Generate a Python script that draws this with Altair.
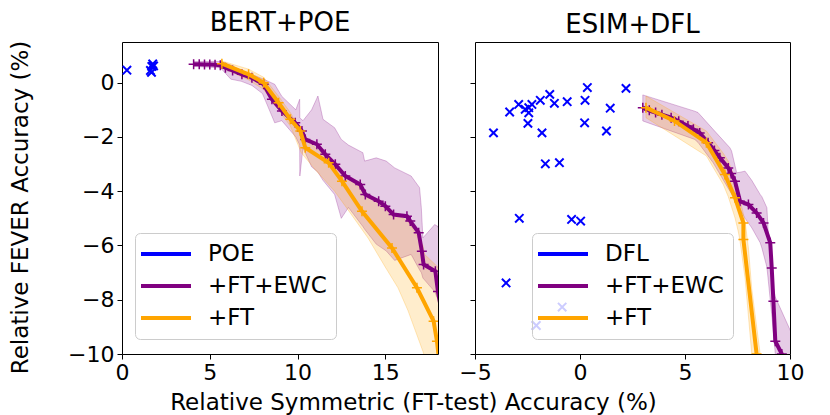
import altair as alt
import pandas as pd

FONT = "DejaVu Sans"
PURPLE = "#800080"
ORANGE = "#ffa500"
BLUE = "#0000ff"

# ---------------- BERT+POE panel ----------------
bert_poe_x = [0.28, 1.62, 1.70, 1.75, 1.80, 1.68]
bert_poe_y = [0.46, 0.45, 0.60, 0.69, 0.62, 0.38]

bert_ewc_x = [4.08, 4.4, 4.7, 5.0, 5.3, 5.6, 5.89, 6.3, 6.83, 7.4, 8.07, 8.54, 9.11, 9.87, 10.25,
              10.44, 11.1, 11.58, 12.15, 12.72, 13.57, 13.86, 14.62, 15.0, 15.47, 16.23, 16.42,
              16.9, 17.08, 17.18, 17.85, 18.0, 18.3]
bert_ewc_y = [0.68, 0.68, 0.67, 0.67, 0.66, 0.64, 0.55, 0.45, 0.31, 0.18, -0.06, -0.61, -1.04, -1.48,
              -1.78, -2.09, -2.27, -2.64, -3.01, -3.44, -3.75, -4.12, -4.37, -4.55, -4.86, -4.92,
              -5.1, -5.53, -6.21, -6.7, -6.95, -7.7, -8.8]

bert_ft_x = [5.69, 7.21, 8.07, 8.92, 9.59, 10.16, 10.44, 11.77, 12.53, 13.67, 15.38, 16.8, 17.75, 17.94, 18.2]
bert_ft_y = [0.70, 0.31, 0.0, -0.74, -1.35, -1.78, -2.4, -2.95, -3.63, -4.74, -6.09, -7.56, -8.79, -9.53, -11.0]

bert_ewc_band_x = [4.08, 5.6, 6.2, 6.8, 7.4, 8.0, 8.7, 9.1, 9.9, 10.12, 10.13, 10.31, 10.8, 11.16,
                   11.45, 12.11, 12.49, 12.9, 13.72, 13.82, 14.48, 15.05, 15.53, 16.47, 16.95, 17.05,
                   17.14, 17.81, 18.0, 18.3]
bert_ewc_band_lo = [0.60, 0.55, 0.13, 0.05, -0.1, -0.4, -1.48, -1.4, -2.0, -2.3, -3.44, -2.4, -3.1, -3.3,
                    -3.6, -4.12, -5.0, -4.6, -5.3, -5.4, -5.95, -6.2, -6.55, -6.33, -6.9, -7.0,
                    -7.2, -7.7, -8.0, -9.0]
bert_ewc_band_hi = [0.78, 0.78, 0.65, 0.45, 0.3, 0.15, -0.06, -0.5, -1.0, -0.61, -1.3, -1.4, -1.0, -0.49,
                    -1.35, -1.66, -2.09, -2.3, -2.58, -2.89, -2.77, -2.89, -3.14, -3.44, -3.87, -4.61,
                    -5.72, -5.23, -5.3, -6.0]

bert_ft_band_x = [5.69, 7.21, 8.07, 8.92, 9.59, 10.21, 11.0, 12.11, 13.0, 14.01, 15.0, 15.72, 16.29,
                  17.14, 17.24, 18.0, 18.3]
bert_ft_band_lo = [0.55, 0.1, -0.25, -1.0, -1.6, -2.58, -3.2, -4.0, -4.8, -5.72, -6.8, -7.56, -8.4,
                   -9.9, -10.1, -11.5, -12.0]
bert_ft_band_hi = [0.80, 0.5, 0.2, -0.5, -1.1, -1.78, -2.4, -3.01, -3.55, -4.12, -4.6, -4.9, -5.1,
                   -6.0, -6.33, -6.8, -7.2]

# ---------------- ESIM+DFL panel ----------------
esim_dfl_x = [-4.12, -3.35, -2.92, -2.61, -2.44, -2.44, -2.29, -2.48, -1.89, -1.81, -1.44, -1.22,
              -1.65, -0.98, -0.61, 0.24, 0.35, 0.22, 1.44, 1.26, 2.19, -2.89, -0.40, 0.03, -3.52,
              -0.85, -2.08]
esim_dfl_y = [-1.85, -1.08, -0.80, -0.98, -1.11, -0.92, -0.80, -1.50, -0.65, -1.85, -0.43, -0.76,
              -2.99, -2.95, -0.70, -0.65, -0.18, -1.48, -0.94, -1.78, -0.21, -5.00, -5.04, -5.10,
              -7.38, -8.27, -8.95]

esim_ewc_x = [2.99, 3.3, 3.6, 3.9, 4.34, 4.7, 5.14, 5.4, 5.7, 6.1, 6.4, 6.66, 7.06, 7.2, 7.38,
              7.62, 8.02, 8.41, 8.74, 9.06, 9.13, 9.21, 9.3, 9.61, 9.8]
esim_ewc_y = [-0.92, -1.02, -1.1, -1.18, -1.29, -1.42, -1.6, -1.72, -1.85, -2.21, -2.5, -2.77,
              -3.14, -3.35, -3.63, -4.37, -4.49, -4.8, -5.17, -5.9, -6.83, -8.06, -9.53, -10.0, -10.5]

esim_ft_x = [3.14, 4.5, 6.02, 6.9, 7.38, 7.78, 7.781, 8.41, 8.6]
esim_ft_y = [-0.92, -1.41, -2.21, -3.38, -4.24, -5.17, -5.78, -10.0, -11.0]

esim_ewc_band_x = [2.99, 5.46, 5.62, 6.34, 7.14, 7.22, 7.46, 7.62, 7.86, 8.18, 8.58, 8.66, 8.9,
                   8.97, 9.13, 9.21, 9.3, 10.1]
esim_ewc_band_lo = [-1.41, -2.09, -2.2, -2.95, -4.0, -4.1, -4.4, -4.67, -5.0, -5.35, -5.9, -6.09,
                    -6.8, -7.32, -8.55, -9.2, -10.0, -11.5]
esim_ewc_band_hi = [-0.45, -1.05, -1.1, -1.72, -2.4, -2.52, -3.32, -3.3, -3.26, -3.6, -4.12, -4.2,
                    -4.61, -5.6, -6.9, -7.56, -7.9, -9.28]

esim_ft_band_x = [3.14, 6.02, 6.82, 7.06, 7.38, 7.54, 7.62, 7.86, 8.02, 8.18, 8.58]
esim_ft_band_lo = [-1.29, -2.7, -3.75, -4.2, -4.98, -5.5, -5.84, -7.2, -8.6, -10.0, -12.0]
esim_ft_band_hi = [-0.49, -1.78, -2.6, -2.89, -3.5, -4.0, -4.3, -5.1, -6.09, -7.6, -10.0]

PLUS = "M-1,0L1,0M0,-1L0,1"
CROSS = "M-1,-1L1,1M-1,1L1,-1"
LEGEND_LINE = "M-2.5,0L2.5,0"


def band_df(xs, lo, hi):
    return pd.DataFrame({"x": xs, "lo": lo, "hi": hi})


def line_df(xs, ys, name):
    return pd.DataFrame({"x": xs, "y": ys, "series": name, "i": list(range(len(xs)))})


def panel(title, base_name, base_x, base_y, ewc_x, ewc_y, ft_x, ft_y,
          ewc_band, ft_band, xdom, xticks, first, legend_x):
    xscale = alt.Scale(domain=xdom, nice=False, zero=False)
    yscale = alt.Scale(domain=[-10, 1.5], nice=False, zero=False)
    if first:
        xaxis = alt.Axis(values=xticks, title="Relative Symmetric (FT-test) Accuracy (%)",
                         titleX=291, titleY=55, titleAlign="center", titleBaseline="alphabetic",
                         titleFontSize=23, titleFont=FONT, titleFontWeight="normal", titleColor="black")
        yaxis = alt.Axis(values=[-10, -8, -6, -4, -2, 0], title="Relative FEVER Accuracy (%)",
                         titleAngle=270, titleX=-95, titleY=165, titleAlign="center",
                         titleBaseline="alphabetic", titleFontSize=23, titleFont=FONT,
                         titleFontWeight="normal", titleColor="black")
    else:
        xaxis = alt.Axis(values=xticks, title=None)
        yaxis = alt.Axis(values=[-10, -8, -6, -4, -2, 0], title=None, labels=False)

    domain = [base_name, "+FT+EWC", "+FT"]
    color = alt.Color("series:N",
                      scale=alt.Scale(domain=domain, range=[BLUE, PURPLE, ORANGE]),
                      legend=alt.Legend(title=None, orient="none", legendX=legend_x, legendY=191,
                                        symbolType=LEGEND_LINE, symbolSize=400, symbolStrokeWidth=4,
                                        symbolOffset=10, labelOffset=30,
                                        labelFontSize=23, labelFont=FONT, labelColor="black",
                                        padding=9, rowPadding=8,
                                        fillColor="rgba(255,255,255,0.8)", strokeColor="#cccccc",
                                        cornerRadius=5))

    x = alt.X("x:Q", scale=xscale, axis=xaxis)
    y = alt.Y("y:Q", scale=yscale, axis=yaxis)

    def band(df, col):
        return alt.Chart(df).mark_area(clip=True, color=col, fillOpacity=0.2, stroke=col,
                                       strokeOpacity=0.25, strokeWidth=1).encode(
            x=alt.X("x:Q", scale=xscale, axis=xaxis),
            y=alt.Y("lo:Q", scale=yscale, axis=yaxis),
            y2="hi:Q")

    ewc = line_df(ewc_x, ewc_y, "+FT+EWC")
    ft = line_df(ft_x, ft_y, "+FT")
    base = line_df(base_x, base_y, base_name)

    layers = [
        band(ewc_band, PURPLE),
        band(ft_band, ORANGE),
        alt.Chart(ewc).mark_line(clip=True, strokeWidth=4).encode(x=x, y=y, color=color, order="i:Q"),
        alt.Chart(ewc).mark_point(clip=True, shape=PLUS, filled=False, size=100, strokeWidth=1.5,
                                  opacity=1, stroke=PURPLE).encode(x=x, y=y),
        alt.Chart(ft).mark_line(clip=True, strokeWidth=4).encode(x=x, y=y, color=color, order="i:Q"),
        alt.Chart(ft).mark_point(clip=True, shape=PLUS, filled=False, size=100, strokeWidth=1.5,
                                 opacity=1, stroke=ORANGE).encode(x=x, y=y),
        alt.Chart(base).mark_point(clip=True, shape=CROSS, filled=False, size=70, strokeWidth=2,
                                   opacity=1, stroke=BLUE).encode(x=x, y=y),
    ]
    w = 316 if first else 315
    return alt.layer(*layers).properties(
        width=w, height=312,
        title=alt.Title(title, fontSize=26, font=FONT, fontWeight="normal", color="black", offset=4))


left = panel("BERT+POE", "POE", bert_poe_x, bert_poe_y, bert_ewc_x, bert_ewc_y, bert_ft_x, bert_ft_y,
             band_df(bert_ewc_band_x, bert_ewc_band_lo, bert_ewc_band_hi),
             band_df(bert_ft_band_x, bert_ft_band_lo, bert_ft_band_hi),
             [0, 18], [0, 5, 10, 15], True, 13)
right = panel("ESIM+DFL", "DFL", esim_dfl_x, esim_dfl_y, esim_ewc_x, esim_ewc_y, esim_ft_x, esim_ft_y,
              band_df(esim_ewc_band_x, esim_ewc_band_lo, esim_ewc_band_hi),
              band_df(esim_ft_band_x, esim_ft_band_lo, esim_ft_band_hi),
              [-5, 10], [-5, 0, 5, 10], False, 57)

chart = alt.hconcat(left, right, spacing=37, bounds="flush").resolve_scale(
    x="independent", y="independent", color="independent").resolve_legend(
    color="independent").properties(
    background="white",
    padding={"left": 0, "top": 1, "right": 5, "bottom": 0}).configure_view(
    stroke="black", strokeWidth=1).configure_axis(
    labelFont=FONT, labelFontSize=22, labelColor="black", tickColor="black", tickSize=5,
    tickWidth=1, labelPadding=3, labelFlush=False, domain=False, grid=False)

chart.save("out.html", embed_options={"renderer": "svg", "actions": False})
